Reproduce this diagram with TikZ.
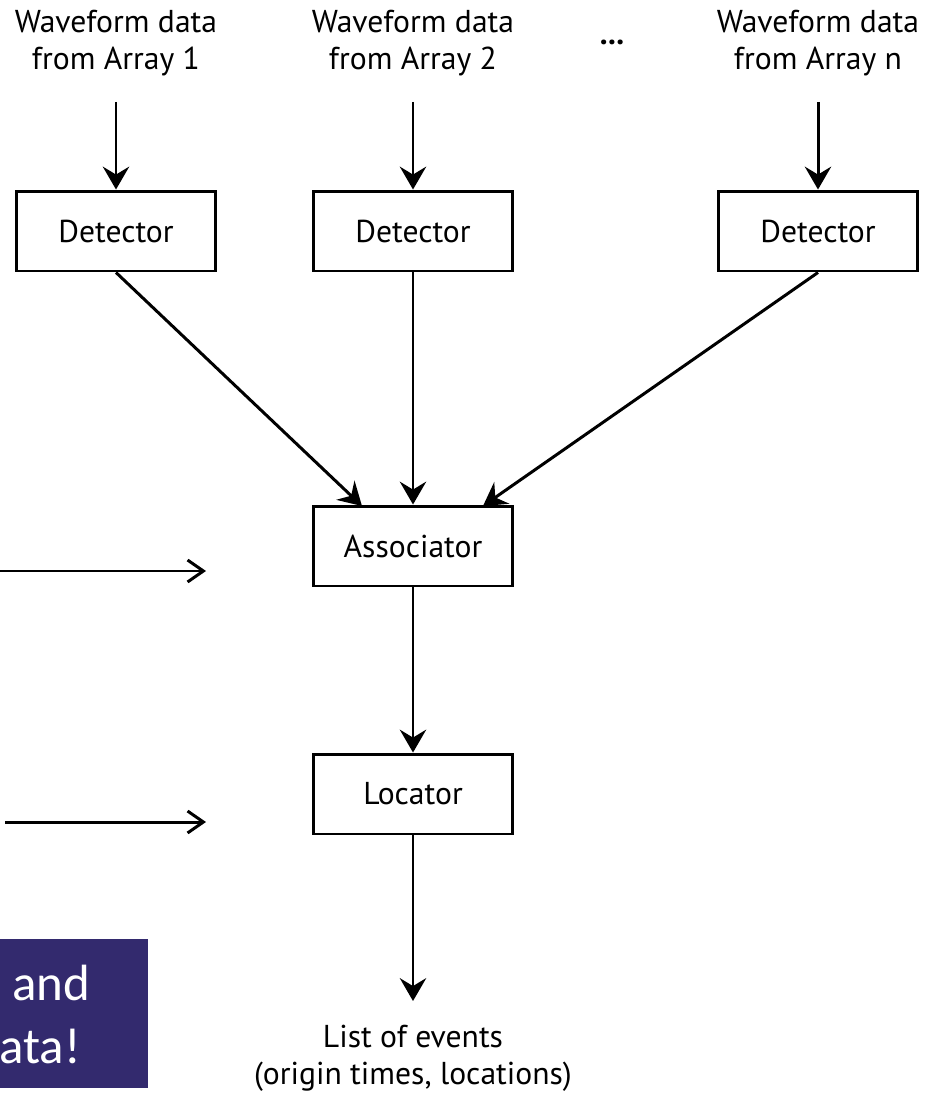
\documentclass[tikz,border=0pt]{standalone}
\usepackage{fontspec}
\setmainfont{PT Sans}
\newfontfamily\slidefont{Carlito}
\usetikzlibrary{positioning}
\usetikzlibrary{arrows.meta}
\definecolor{slidepurple}{HTML}{332A6E}

\begin{document}
\begin{tikzpicture}[x=0.02cm, y=-0.02cm,
    font=\fontsize{18}{21}\selectfont,
    block/.style={draw, line width=1.7pt, minimum width=4cm, minimum height=1.6cm},
    flow/.style={line width=1.7pt, -{Stealth[length=13pt, width=15pt, inset=4.5pt]}},
    feed/.style={line width=1.7pt, -{Straight Barb[length=9pt, width=12.5pt, line width=1.7pt]}}]

    \useasboundingbox (0, 0) rectangle (934, 1095);

    % sources
    \node[align=center] (src1) at (116, 43) {Waveform data\\from Array 1};
    \node[align=center] (src2) at (413, 43) {Waveform data\\from Array 2};
    \node[align=center] (srcn) at (818, 43) {Waveform data\\from Array n};
    \node (dots) at (612, 42) {\textbf{...}};

    \coordinate (in1) at (116, 102);
    \coordinate (in2) at (413, 102);
    \coordinate (inn) at (818, 102);

    % processing chain
    \node[block] (det1) at (116, 231) {Detector};
    \node[block] (det2) at (413, 231) {Detector};
    \node[block] (detn) at (818, 231) {Detector};
    \node[block] (assoc) at (413, 546) {Associator};
    \node[block] (loc) at (413, 794) {Locator};

    \coordinate (hit1) at (362, 506);
    \coordinate (hitn) at (483, 506);
    \coordinate (out) at (413, 1001);

    \node[align=center] (events) at (413, 1058) {List of events\\(origin times, locations)};

    \draw[flow] (in1) -- (det1);
    \draw[flow] (in2) -- (det2);
    \draw[flow] (inn) -- (detn);

    \draw[flow] (det1.south) -- (hit1);
    \draw[flow] (det2) -- (assoc);
    \draw[flow] (detn.south) -- (hitn);

    \draw[flow] (assoc) -- (loc);
    \draw[flow] (loc) -- (out);

    % side inputs
    \coordinate (side1) at (0, 571);
    \coordinate (side1end) at (206, 571);
    \coordinate (side2) at (5, 822);
    \coordinate (side2end) at (206, 822);
    \draw[feed] (side1) -- (side1end);
    \draw[feed] (side2) -- (side2end);

    % overlay box
    \fill[slidepurple] (0, 939) rectangle (148, 1088);
    \node[anchor=base west, inner sep=0pt, text=white, font=\slidefont\fontsize{29}{34}\selectfont] (ovl1) at (12, 1000) {and};
    \node[anchor=base west, inner sep=0pt, text=white, font=\slidefont\fontsize{29}{34}\selectfont] (ovl2) at (-1, 1063) {ata!};

\end{tikzpicture}
\end{document}
